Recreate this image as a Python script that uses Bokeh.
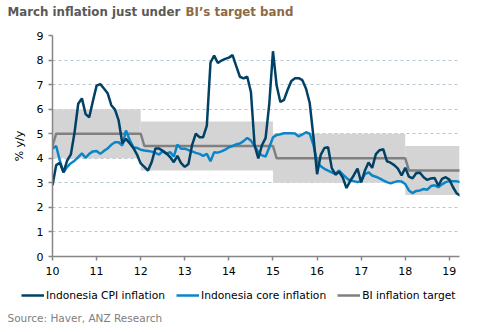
from bokeh.plotting import figure
from bokeh.layouts import column, row
from bokeh.models import (Range1d, FixedTicker, Label, Legend, LegendItem,
                          ColumnDataSource)
from bokeh.embed import file_html
from bokeh.resources import INLINE

# ---- data (monthly, Dec 2009 .. Mar 2019; month-end dates on a year axis) ----
year_ticks = [10, 11, 12, 13, 14, 15, 16, 17, 18, 19]
year_labels = ["10", "11", "12", "13", "14", "15", "16", "17", "18", "19"]

cpi = [2.9,
       3.72, 3.81, 3.43, 3.91, 4.16, 5.05, 6.22, 6.44, 5.80, 5.67, 6.33, 6.96,
       7.02, 6.84, 6.65, 6.16, 5.98, 5.54, 4.61, 4.79, 4.61, 4.42, 4.15, 3.79,
       3.65, 3.50, 3.85, 4.40, 4.40, 4.30, 4.20, 4.05, 3.84, 4.10, 3.80, 3.65,
       3.77, 4.55, 5.00, 4.86, 4.86, 5.33, 7.90, 8.18, 7.88, 7.98, 8.05, 8.10,
       8.20, 7.75, 7.32, 7.25, 7.32, 6.70, 4.53, 3.99, 4.53, 4.83, 6.23, 8.36,
       6.96, 6.29, 6.38, 6.79, 7.15, 7.26, 7.26, 7.18, 6.83, 6.25, 4.89, 3.35,
       4.14, 4.42, 4.45, 3.60, 3.33, 3.45, 3.21, 2.79, 3.07, 3.31, 3.58, 3.02,
       3.49, 3.83, 3.61, 4.17, 4.33, 4.37, 3.88, 3.82, 3.72, 3.58, 3.30, 3.61,
       3.25, 3.18, 3.40, 3.41, 3.23, 3.12, 3.18, 3.20, 2.88, 3.16, 3.23, 3.13,
       2.82, 2.57, 2.48]

core = [4.40,
        4.50, 3.90, 3.43, 3.65, 3.80, 3.90, 4.05, 4.20, 4.02, 4.18, 4.28, 4.30,
        4.18, 4.30, 4.40, 4.55, 4.65, 4.65, 4.52, 5.13, 4.75, 4.45, 4.42, 4.35,
        4.32, 4.30, 4.27, 4.22, 4.15, 4.29, 4.18, 4.25, 4.07, 4.56, 4.39, 4.39,
        4.33, 4.28, 4.22, 4.18, 4.10, 4.18, 3.88, 4.25, 4.23, 4.28, 4.35, 4.45,
        4.50, 4.57, 4.60, 4.70, 4.83, 4.72, 4.50, 4.25, 4.12, 4.07, 4.45, 4.85,
        4.95, 4.98, 5.02, 5.02, 5.02, 5.01, 4.89, 4.97, 5.06, 5.00, 4.55, 3.85,
        3.68, 3.57, 3.50, 3.42, 3.37, 3.50, 3.34, 3.20, 3.09, 3.07, 3.03, 3.07,
        3.35, 3.43, 3.30, 3.25, 3.18, 3.10, 3.03, 2.98, 3.03, 3.07, 3.05, 2.95,
        2.69, 2.58, 2.67, 2.69, 2.75, 2.72, 2.87, 2.90, 2.82, 2.94, 3.03, 3.07,
        3.06, 3.06, 3.03]

target = [4.5] + [5.0] * 24 + [4.5] * 36 + [4.0] * 36 + [3.5] * 15

# target band regimes (year-axis start/end, centre, +/- width)
band_start = [10, 12, 15, 18]
band_end = [12, 15, 18, 19.23]
band_mid = [5.0, 4.5, 4.0, 3.5]
band_half = [1.0, 1.0, 1.0, 1.0]

series_names = ["Indonesia CPI inflation", "Indonesia core inflation",
                "BI inflation target"]
series_colors = ["#004165", "#0a86c8", "#808080"]

x = [10 + i / 12 for i in range(len(cpi))]

FONT = "DejaVu Sans"


def strip(height, y_range):
    f = figure(width=488, height=height, output_backend="svg",
               toolbar_location=None, x_range=Range1d(10, 19.23),
               y_range=y_range, x_axis_location=None,
               y_axis_location=None, min_border_left=0, min_border_right=0,
               min_border_top=0, min_border_bottom=0)
    f.grid.grid_line_color = None
    f.outline_line_color = None
    return f


# ---- title strip ----
ht = strip(22, Range1d(0, 1))
ht.add_layout(Label(x=7, y=11, x_units="screen", y_units="screen",
                    text="March inflation just under", text_font=FONT,
                    text_font_size="11.8px", text_font_style="bold",
                    text_color="#595959", text_baseline="middle"))
ht.add_layout(Label(x=185, y=11, x_units="screen", y_units="screen",
                    text="BI\u2019s target band", text_font=FONT,
                    text_font_size="11.8px", text_font_style="bold",
                    text_color="#8c6a48", text_baseline="middle"))

# ---- main chart ----
p = figure(width=488, height=260, output_backend="svg", toolbar_location=None,
           x_range=Range1d(10, 19.23), y_range=Range1d(0, 9),
           min_border_left=52, min_border_right=29, min_border_top=13,
           min_border_bottom=26)
p.outline_line_color = None

band_src = ColumnDataSource(dict(
    left=band_start, right=band_end,
    bottom=[m - h for m, h in zip(band_mid, band_half)],
    top=[m + h for m, h in zip(band_mid, band_half)]))
p.quad(left="left", right="right", bottom="bottom", top="top",
       source=band_src, fill_color="#d4d4d4", line_color=None)

series_vals = [cpi, core, target]
for vals, col in zip(series_vals[::-1], series_colors[::-1]):
    p.line(x, vals, line_color=col, line_width=2.5)

p.xaxis.ticker = FixedTicker(ticks=year_ticks)
p.xaxis.major_label_overrides = {t: l for t, l in zip(year_ticks, year_labels)}
p.yaxis.ticker = FixedTicker(ticks=list(range(0, 10)))
for ax in (p.xaxis[0], p.yaxis[0]):
    ax.axis_line_color = "#868686"
    ax.axis_line_width = 1.5
    ax.major_tick_line_color = "#868686"
    ax.major_tick_line_width = 1.5
    ax.major_tick_out = 4
    ax.major_tick_in = 0
    ax.minor_tick_line_color = None
    ax.major_label_text_font = FONT
    ax.major_label_text_font_size = "11px"
    ax.major_label_text_color = "#000000"
p.xaxis.major_label_standoff = 6
p.yaxis.major_label_standoff = 5
p.yaxis.axis_label = "% y/y"
p.yaxis.axis_label_text_font = FONT
p.yaxis.axis_label_text_font_size = "11px"
p.yaxis.axis_label_text_font_style = "normal"
p.yaxis.axis_label_text_color = "#000000"
p.yaxis.axis_label_standoff = 8

p.xgrid.grid_line_color = None
p.ygrid.ticker = FixedTicker(ticks=list(range(1, 10)))
p.ygrid.grid_line_color = "#b4c6d0"
p.ygrid.grid_line_dash = "3 3"
p.ygrid.grid_line_width = 1

# ---- legend + source strip (series drawn out of view; legend only) ----
fs = strip(50, Range1d(100, 101))
items = []
for name, vals, col in zip(series_names, series_vals, series_colors):
    r = fs.line(x, vals, line_color=col, line_width=2.5)
    items.append(LegendItem(label=name, renderers=[r]))
legend = Legend(items=items, orientation="horizontal", location=(21, 30))
legend.label_text_font = FONT
legend.label_text_font_size = "10.7px"
legend.label_text_color = "#000000"
legend.glyph_width = 23
legend.glyph_height = 14
legend.label_height = 14
legend.label_standoff = 2
legend.spacing = 11
legend.padding = 0
legend.margin = 0
legend.border_line_color = None
legend.background_fill_alpha = 0
fs.add_layout(legend)
fs.add_layout(Label(x=7, y=15, x_units="screen", y_units="screen",
                    text="Source: Haver, ANZ Research", text_font=FONT,
                    text_font_size="10.5px", text_color="#808080",
                    text_baseline="middle"))

layout = column(row(ht), p, row(fs), spacing=0)
open("out.html", "w").write(file_html(layout, INLINE))
